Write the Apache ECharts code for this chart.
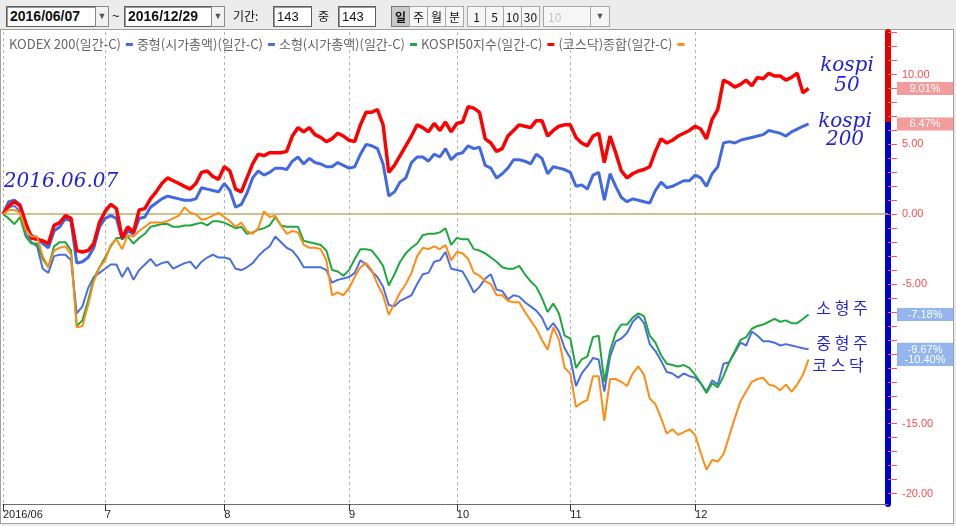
<!DOCTYPE html>
<html><head><meta charset="utf-8">
<script src="https://cdn.jsdelivr.net/npm/echarts@6/dist/echarts.min.js"></script>
<style>
html,body{margin:0;padding:0;width:956px;height:526px;overflow:hidden;background:#ececec;font-family:"Liberation Sans",Arial,sans-serif;}
#panel{position:absolute;left:0;top:29px;width:954px;height:495px;background:#fff;border:1px solid #a0a0a0;box-sizing:border-box;}
#chart{position:absolute;left:0;top:0;width:956px;height:526px;}
.tb{position:absolute;top:6px;height:21px;box-sizing:border-box;font-size:13px;line-height:19px;color:#111;white-space:nowrap;z-index:5;}
.box{background:#fff;border:1px solid #5f5f5f;box-shadow:inset 1px 1px 0 #9a9a9a;padding-left:3px;}
.date{font-weight:bold;font-size:14px;}
.dd{background:#f2f2f2;border:1px solid #8a8a8a;text-align:center;font-size:9px;color:#555;}
.lbl{font-family:"Noto Sans CJK KR",sans-serif;font-size:12px;}
.btn{background:#f6f6f6;border:1px solid #a6a6a6;text-align:center;font-size:12px;font-family:"Noto Sans CJK KR","Liberation Sans",sans-serif;}
.on{background:#c9c9c9;border-color:#777;font-weight:bold;}
.dis{color:#c4c4c4;}
</style></head>
<body>
<div id="panel"></div>
<div class="tb box date" style="left:6px;width:90px;">2016/06/07</div>
<div class="tb dd" style="left:95px;width:14px;">▼</div>
<div class="tb" style="left:112px;">~</div>
<div class="tb box date" style="left:124px;width:88px;">2016/12/29</div>
<div class="tb dd" style="left:211px;width:14px;">▼</div>
<div class="tb lbl" style="left:233px;">기간:</div>
<div class="tb box" style="left:273px;width:39px;">143</div>
<div class="tb lbl" style="left:318px;">중</div>
<div class="tb box" style="left:338px;width:38px;">143</div>
<div class="tb btn on" style="left:391px;width:19px;">일</div>
<div class="tb btn" style="left:409px;width:19px;">주</div>
<div class="tb btn" style="left:427px;width:19px;">월</div>
<div class="tb btn" style="left:445px;width:19px;">분</div>
<div class="tb btn" style="left:467px;width:19px;">1</div>
<div class="tb btn" style="left:485px;width:19px;">5</div>
<div class="tb btn" style="left:503px;width:19px;">10</div>
<div class="tb btn" style="left:521px;width:19px;">30</div>
<div class="tb btn dis" style="left:543px;width:48px;text-align:left;padding-left:4px;">10</div>
<div class="tb dd" style="left:590px;width:20px;background:#f6f6f6;border-color:#a6a6a6;">▼</div>
<div id="chart"></div>
<script>
// ---- data ----
const monthStarts = [0, 18, 39, 61, 80, 100, 122];
const monthLabels = ['2016/06', '7', '8', '9', '10', '11', '12'];
const totalSlots = 157;
const seriesNames = ['KODEX 200(일간-C)', '중형(시가총액)(일간-C)', '소형(시가총액)(일간-C)', 'KOSPI50지수(일간-C)', '(코스닥)종합(일간-C)'];

const kodex200 = [
 0,0.9,1.0,0.7,-0.8,-1.5,-1.7,-2.1,-2.4,-1.2,-0.9,-0.3,-0.5,-3.5,-3.4,-3.1,-2.4,-0.9,
 -0.3,-0.1,-0.3,-1.8,-1.2,-1.4,-0.3,-0.2,0.5,0.8,1.1,1.3,1.2,1.1,1.0,1.0,1.1,1.9,1.8,1.7,1.6,
 2.2,1.7,0.5,0.7,1.5,2.6,3.1,2.8,3.0,3.3,3.3,3.2,3.8,4.1,3.6,4.0,3.7,3.6,3.4,3.4,3.7,3.5,
 3.3,3.4,4.3,5.0,4.9,4.7,3.6,1.3,1.6,2.3,2.6,3.7,4.1,4.1,3.8,4.3,4.1,4.7,3.9,
 4.3,4.4,4.9,4.7,4.8,3.5,3.3,2.6,2.9,3.3,3.9,3.9,3.8,3.6,4.3,4.0,2.9,3.4,3.3,3.2,
 3.0,2.0,2.1,1.8,2.8,3.0,1.0,2.9,2.0,1.2,0.9,1.1,1.0,0.9,0.8,1.7,2.3,1.9,2.0,2.2,2.4,2.4,
 2.8,2.6,2.0,2.9,3.4,5.1,5.2,5.1,5.3,5.4,5.5,5.6,5.7,6.0,5.9,5.8,5.6,5.9,6.1,6.3,6.47
];
const midCap = [
 0,0.5,0.6,0.2,-1.4,-2.0,-2.3,-3.9,-4.2,-3.0,-2.9,-2.9,-3.3,-7.1,-6.6,-5.3,-4.5,-4.2,
 -3.9,-3.6,-3.6,-4.5,-3.8,-4.7,-4.0,-3.6,-3.2,-3.7,-3.5,-3.4,-3.9,-3.7,-3.5,-3.4,-3.9,-3.4,-3.1,-2.9,-3.1,
 -3.1,-3.2,-3.9,-4.0,-3.8,-3.5,-3.0,-2.6,-2.3,-1.6,-2.0,-2.4,-2.6,-3.1,-3.8,-3.8,-3.8,-3.8,-4.0,-4.9,-4.7,-4.6,
 -4.5,-4.2,-3.3,-3.6,-4.1,-4.5,-5.2,-6.5,-6.6,-6.2,-6.0,-5.8,-5.0,-4.3,-4.2,-3.4,-3.3,-2.7,-3.9,
 -4.0,-4.1,-4.8,-5.6,-5.2,-4.6,-4.3,-5.4,-5.5,-6.1,-5.8,-5.9,-6.3,-6.6,-6.9,-7.4,-8.3,-7.8,-8.4,-9.6,
 -10.3,-12.3,-11.4,-10.9,-10.3,-10.4,-12.7,-10.2,-9.1,-8.9,-8.5,-7.7,-7.3,-7.8,-9.3,-9.8,-10.5,-11.3,-11.4,-11.7,-11.4,-11.6,
 -11.7,-12.1,-12.7,-11.9,-12.2,-10.7,-10.6,-9.9,-9.2,-9.4,-8.4,-8.7,-9.1,-9.1,-9.2,-9.4,-9.3,-9.4,-9.5,-9.6,-9.67
];
const smallCap = [
 0,-0.3,-0.7,-0.2,-1.6,-2.1,-2.1,-3.2,-3.8,-2.3,-2.0,-2.0,-2.6,-8.0,-7.6,-6.2,-4.6,-3.8,
 -3.1,-2.3,-1.7,-1.7,-1.6,-2.1,-1.7,-1.4,-0.9,-0.8,-0.7,-0.7,-0.9,-0.9,-0.8,-0.8,-0.7,-0.6,-0.8,-0.5,-0.5,
 -0.6,-0.8,-1.0,-0.9,-1.4,-1.3,-1.1,-1.0,-0.8,-0.2,-0.8,-0.9,-0.9,-0.9,-1.9,-2.0,-2.1,-2.2,-2.6,-4.0,-4.1,-4.4,
 -4.0,-3.2,-2.5,-2.5,-2.6,-3.1,-3.7,-5.1,-4.3,-3.4,-2.8,-2.4,-2.1,-1.5,-1.4,-1.4,-1.3,-1.0,-2.2,
 -1.7,-1.8,-1.8,-2.5,-2.6,-2.8,-3.1,-3.4,-3.8,-3.9,-3.9,-3.7,-4.3,-4.8,-5.2,-6.0,-7.0,-6.4,-7.1,-8.7,
 -8.9,-11.0,-10.4,-10.2,-8.8,-8.7,-12.0,-9.8,-8.5,-7.9,-7.9,-7.4,-7.1,-7.3,-8.7,-9.2,-10.1,-10.7,-10.8,-10.9,-10.8,-11.0,
 -11.5,-12.1,-12.8,-12.1,-12.4,-11.6,-10.6,-9.8,-9.0,-8.8,-8.2,-8.0,-7.9,-7.7,-7.5,-7.7,-7.6,-7.8,-7.8,-7.5,-7.18
];
const kospi50 = [
 0,0.6,0.9,0.6,-0.6,-1.7,-1.8,-1.9,-2.1,-0.8,-0.6,-0.1,-0.3,-2.6,-2.7,-2.6,-2.1,-0.6,
 0.2,0.7,0.4,-1.7,-0.9,-1.3,0.3,0.4,1.1,1.6,2.2,2.6,2.4,2.2,2.0,1.8,2.2,3.0,3.1,2.7,2.5,
 3.4,3.1,1.8,1.6,2.6,3.6,4.3,4.2,4.4,4.4,4.4,4.5,5.6,6.2,5.9,6.2,5.7,5.5,5.2,5.4,5.8,5.6,
 5.3,5.2,6.4,7.3,7.3,7.5,6.4,3.0,3.5,4.2,4.9,5.6,6.4,6.2,5.9,6.5,6.0,6.6,5.9,
 6.5,6.6,7.7,7.6,7.3,5.4,5.1,4.5,4.7,5.6,6.0,6.4,6.3,6.2,6.7,6.7,5.6,6.0,6.3,6.4,
 6.4,5.5,5.1,4.9,5.6,5.8,3.7,5.6,4.4,3.1,2.6,2.9,3.1,3.2,3.4,4.5,5.4,5.1,5.3,5.6,5.8,6.0,
 6.3,6.1,5.4,6.8,7.5,9.6,9.4,9.1,9.3,9.6,9.2,9.8,9.7,10.1,9.9,9.9,9.6,9.8,10.1,8.7,9.01
];
const kosdaq = [
 0,0.3,0.3,0.1,-1.1,-1.6,-1.6,-3.0,-3.8,-2.6,-2.4,-2.3,-2.9,-8.1,-8.0,-6.5,-4.8,-3.8,
 -3.3,-2.2,-1.8,-2.5,-1.5,-1.6,-1.2,-0.9,-0.6,-0.6,-0.6,-0.5,-0.3,-0.1,0.5,0.1,0.0,-0.4,-0.3,-0.1,0.1,
 -0.2,-0.5,-0.9,-0.6,-1.2,-1.4,-1.0,0.2,-0.2,-0.1,-0.8,-1.4,-1.2,-1.3,-2.2,-2.4,-2.4,-2.5,-3.3,-5.8,-5.6,-5.8,
 -5.3,-4.5,-3.8,-3.5,-4.0,-5.0,-5.8,-7.2,-6.4,-5.6,-5.0,-4.2,-3.0,-2.4,-2.5,-2.3,-2.5,-2.2,-3.3,
 -2.7,-2.8,-3.2,-4.2,-4.4,-4.8,-5.0,-5.8,-5.8,-6.2,-6.3,-6.3,-7.0,-7.6,-8.2,-9.0,-9.7,-8.1,-9.0,-11.0,
 -11.4,-13.8,-13.5,-13.3,-11.6,-11.6,-14.8,-11.8,-11.8,-12.0,-12.3,-11.4,-10.9,-11.5,-13.2,-13.6,-14.6,-15.7,-15.4,-15.8,-15.6,-15.4,
 -15.8,-17.1,-18.3,-17.6,-17.7,-17.2,-15.9,-14.6,-13.4,-12.7,-12.0,-11.8,-11.7,-12.2,-12.3,-12.6,-12.2,-12.7,-12.2,-11.5,-10.4
];
const yTickValues = [-20,-19,-18,-17,-16,-15,-14,-13,-12,-11,-10,-9,-8,-7,-6,-5,-4,-3,-2,-1,0,1,2,3,4,5,6,7,8,9,10,11,12,13];
const yLabelValues = [-20, -15, -10, -5, 0, 5, 10];
const yMin = -20.75, yMax = 13.05;

// ---- build ----
const categories = [];
for (let i = 0; i < totalSlots; i++) {
  const k = monthStarts.indexOf(i);
  categories.push(k >= 0 ? monthLabels[k] : '');
}
const isMonth = (idx) => monthStarts.indexOf(idx) >= 0;
const lastOf = a => a[a.length - 1];
const split = (yMax - lastOf(kodex200)) / (yMax - yMin);

const colors = ['#4169e1', '#4a6fe0', '#1fa83d', '#ff0000', '#ff8c14'];
const widths = [3, 2, 2, 3.5, 2];
const datas = [kodex200, midCap, smallCap, kospi50, kosdaq];

const chart = echarts.init(document.getElementById('chart'), null, {renderer: 'canvas'});
const series = seriesNames.map((n, i) => ({
  name: n, type: 'line', data: datas[i], symbol: 'none', showSymbol: false,
  lineStyle: {color: colors[i], width: widths[i]}, itemStyle: {color: colors[i]},
  emphasis: {disabled: true}, silent: true, z: 3 + i,
  markLine: i === 0 ? {
    silent: true, symbol: ['none', 'none'], label: {show: false},
    lineStyle: {color: '#b3b36a', width: 1.5, type: 'solid'},
    data: [{yAxis: 0}], z: 1
  } : undefined
}));

const boxRich = {
  r: {backgroundColor: '#f39c9c', color: '#fff', width: 44, align: 'center', padding: [1, 6, 0, 6], fontSize: 11, height: 12, lineHeight: 12},
  b: {backgroundColor: '#94b6f0', color: '#fff', width: 44, align: 'center', padding: [1, 6, 0, 6], fontSize: 11, height: 12, lineHeight: 12}
};
function boxAxis(vals) {
  return {
    type: 'value', position: 'right', min: yMin, max: yMax,
    axisLine: {show: false}, axisTick: {show: false}, splitLine: {show: false},
    axisLabel: {
      customValues: vals, margin: 9, hideOverlap: false,
      formatter: v => (v >= 0 ? '{r|' : '{b|') + v.toFixed(2) + '%}',
      rich: boxRich
    }
  };
}

const annFont = {fontFamily: '"DejaVu Serif", serif', fontStyle: 'italic', fontSize: 20, fill: '#2323d8'};
const korFont = {fontFamily: '"Noto Sans CJK KR", sans-serif', fontSize: 16, fill: '#2323d8'};
function txt(t, x, y, f) {
  return {type: 'text', x: x, y: y, z: 50, silent: true,
    style: Object.assign({text: t, align: 'center', verticalAlign: 'middle', textAlign: 'center', textVerticalAlign: 'middle'}, f)};
}

chart.setOption({
  animation: false,
  backgroundColor: 'transparent',
  textStyle: {fontFamily: '"Liberation Sans", Arial, sans-serif'},
  grid: {left: 3, right: 66, top: 32, bottom: 22, containLabel: false},
  legend: {
    left: 4, top: 33, align: 'right', icon: 'rect', itemWidth: 7, itemHeight: 3, itemGap: 4,
    selectedMode: false, data: seriesNames,
    textStyle: {fontSize: 13, color: '#666', fontFamily: '"Noto Sans CJK KR", sans-serif', padding: 0}
  },
  xAxis: {
    type: 'category', data: categories, boundaryGap: false, position: 'bottom',
    axisLine: {show: true, onZero: false, lineStyle: {color: '#6e6e6e', width: 1}},
    axisTick: {show: true, interval: isMonth, length: 7, lineStyle: {color: '#333'}},
    axisLabel: {interval: isMonth, align: 'left', margin: 5, fontSize: 11, color: '#222'},
    splitLine: {show: true, interval: isMonth, lineStyle: {color: '#b4b4b4', type: [3, 3], width: 1}}
  },
  yAxis: [{
    type: 'value', position: 'right', min: yMin, max: yMax,
    axisLine: {show: true, lineStyle: {width: 6, color: new echarts.graphic.LinearGradient(0, 0, 0, 1, [
      {offset: 0, color: '#e60000'}, {offset: split, color: '#e60000'},
      {offset: split, color: '#0000d0'}, {offset: 1, color: '#0000d0'}])}},
    axisTick: {show: true, customValues: yTickValues, length: 9, lineStyle: {color: '#ff5a5a'}},
    axisLabel: {customValues: yLabelValues, formatter: v => v.toFixed(2), color: '#ff4a4a', fontSize: 11, margin: 14},
    splitLine: {show: false}
  },
    boxAxis([lastOf(kospi50), lastOf(kodex200), lastOf(smallCap)]),
    boxAxis([lastOf(midCap)]),
    boxAxis([lastOf(kosdaq)])
  ],
  series: series,
  graphic: [
    txt('2016.06.07', 61, 182, annFont),
    txt('kospi', 847, 66, annFont), txt('50', 847, 86, annFont),
    txt('kospi', 845, 122, annFont), txt('200', 845, 140, annFont),
    txt('소 형 주', 842, 308, korFont),
    txt('중 형 주', 842, 343, korFont),
    txt('코 스 닥', 838, 365, korFont)
  ]
});
</script>
</body></html>
